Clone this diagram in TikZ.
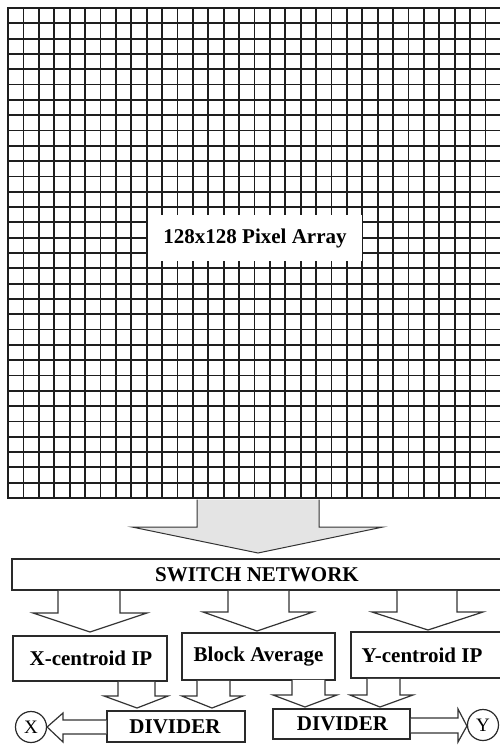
\documentclass[tikz,border=0pt]{standalone}
\usepackage{fontspec}
\setmainfont{Liberation Serif}
\definecolor{gridc}{HTML}{1E1E1E}
\definecolor{boxc}{HTML}{2A2A2A}
\definecolor{arrc}{HTML}{333333}
\definecolor{bigfill}{HTML}{E4E4E4}
\begin{document}
\begin{tikzpicture}[x=1pt,y=-1pt,
  gridline/.style={line width=1.8pt,draw=gridc},
  box/.style={draw=boxc,line width=1.5pt,fill=white,inner sep=0pt},
  lbl/.style={font=\fontsize{21}{24}\selectfont\bfseries,text=black,inner sep=0pt},
  barrow/.style={draw=arrc,line width=1.2pt,fill=white,line join=miter},
  bigarrow/.style={draw=arrc,line width=1pt,fill=bigfill,line join=miter},
  circ/.style={circle,draw=boxc,line width=1.2pt,minimum size=31pt,inner sep=0pt,
    font=\fontsize{19}{21}\selectfont}]
\useasboundingbox (0,0) rectangle (500,747);
\fill[white] (0,0) rectangle (500,747);
\begin{scope}
\clip (0,0) rectangle (500,747);
% pixel grid
\foreach \i in {0,...,32} \draw[gridline] (7.1,{8+\i*15.3125}) -- (502,{8+\i*15.3125});
\foreach \i in {0,...,31} \draw[gridline] ({8+\i*15.4},7.1) -- ({8+\i*15.4},498.9);
\node[fill=white,minimum width=214pt,minimum height=46pt,inner sep=0pt] (arr) at (255,238) {};
\node[lbl] (arrtext) at (255,238) {128x128 Pixel Array};
% big arrow
\draw[bigarrow] (197,499.5) -- (197,527) -- (132,527) -- (258,553) -- (383,527) -- (319,527) -- (319,499.5);
% switch network
\node[box,minimum width=494pt,minimum height=31pt] (sw) at (259,574.5) {};
\node[lbl] (swtext) at (257,574.5) {SWITCH NETWORK};
% arrows from switch network
\draw[barrow] (58,590.8) -- (58,613) -- (33,613) -- (90,632) -- (147,613) -- (120,613) -- (120,590.8);
\draw[barrow] (228,590.8) -- (228,612) -- (203,612) -- (257,631) -- (313,612) -- (289,612) -- (289,590.8);
\draw[barrow] (397,590.8) -- (397,612) -- (372,612) -- (428,630) -- (483,612) -- (457,612) -- (457,590.8);
% processing blocks
\node[box,minimum width=154pt,minimum height=45pt] (xc) at (90,658.5) {};
\node[lbl] (xctext) at (91,658.5) {X-centroid IP};
\node[box,minimum width=153pt,minimum height=47pt] (ba) at (258.5,656.5) {};
\node[lbl] (batext) at (258.5,656.5) {Block Average};
\node[box,minimum width=153pt,minimum height=46pt] (yc) at (427.5,655) {};
\node[lbl] (yctext) at (422,655) {Y-centroid IP};
% arrows to dividers
\draw[barrow] (118,681.8) -- (118,696) -- (104,696) -- (137,708) -- (168,696) -- (155,696) -- (155,681.8);
\draw[barrow] (197,680.8) -- (197,696) -- (182,696) -- (212,708) -- (243,696) -- (230,696) -- (230,680.8);
\draw[barrow] (292,679.8) -- (292,695) -- (273,695) -- (305,707) -- (337,695) -- (325,695) -- (325,679.8);
\draw[barrow] (367,678.8) -- (367,695) -- (350,695) -- (380,707) -- (413,695) -- (400,695) -- (400,678.8);
% dividers
\node[box,minimum width=138pt,minimum height=31pt] (dl) at (176,726.5) {};
\node[lbl] (dltext) at (175,726.5) {DIVIDER};
\node[box,minimum width=137pt,minimum height=30pt] (dr) at (341.5,724) {};
\node[lbl] (drtext) at (342.5,724) {DIVIDER};
% outputs
\node[circ] (X) at (31,727) {X};
\node[circ] (Y) at (483,725) {Y};
\draw[barrow] (dl.west|-0,720) -- (63,720) -- (63,713) -- (X.east|-0,727) -- (63,742) -- (63,734) -- (dl.west|-0,734);
\draw[barrow] (dr.east|-0,718) -- (458,718) -- (458,709) -- (Y.west|-0,726) -- (458,742) -- (458,733) -- (dr.east|-0,733);
\end{scope}
\end{tikzpicture}
\end{document}
